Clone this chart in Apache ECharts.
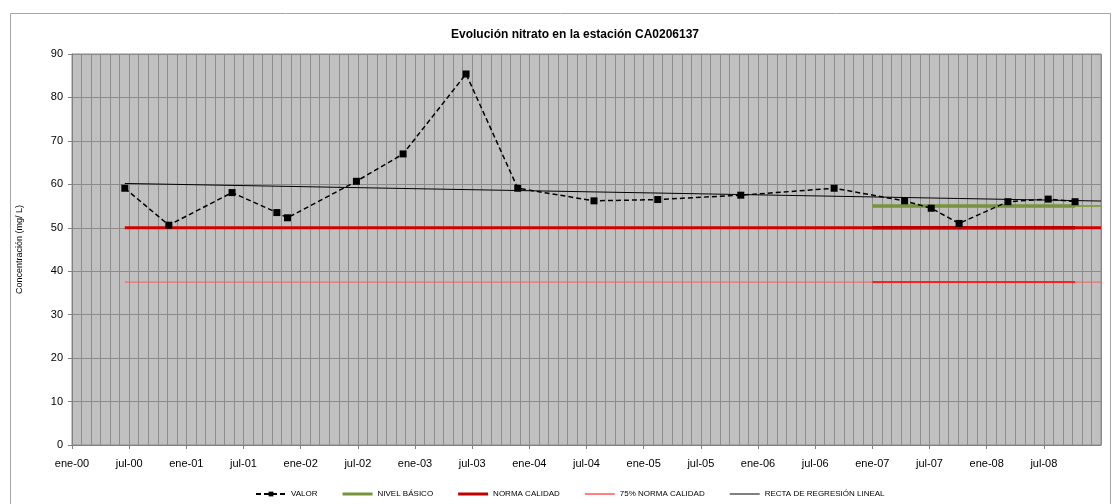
<!DOCTYPE html>
<html>
<head>
<meta charset="utf-8">
<script src="https://cdn.jsdelivr.net/npm/echarts@6/dist/echarts.min.js"></script>
<style>
  html, body { margin: 0; padding: 0; background: #fff; }
  #chart { width: 1114px; height: 504px; }
</style>
</head>
<body>
<div id="chart"></div>
<script>
// muestras de nitrato (fecha, mg/L)
const fechas = ['2000-06-18', '2000-11-06', '2001-05-27', '2001-10-17', '2001-11-20', '2002-06-28',
  '2002-11-24', '2003-06-13', '2003-11-25', '2004-07-26', '2005-02-15', '2005-11-07',
  '2006-09-01', '2007-04-14', '2007-07-08', '2007-10-05', '2008-03-09', '2008-07-16', '2008-10-10']
const valores = [59.1, 50.6, 58.1, 53.5, 52.3, 60.7, 67.0, 85.4, 59.1, 56.2, 56.5, 57.5,
  59.1, 56.2, 54.5, 51.0, 56.0, 56.6, 56.0]

// lineas de referencia
const periodoCorto = ['2007-01-01', '2008-10-10']
const periodoLargo = ['2000-06-18', '2009-01-01']
const periodoBasico = ['2007-01-01', '2009-01-01']
const nivelBasico = 55
const normaCalidad = 50
const norma75 = 37.5
const regresion = [60.2, 56.15]

const nombres = ['VALOR', 'NIVEL BÁSICO', 'NORMA CALIDAD', '75% NORMA CALIDAD', 'RECTA DE REGRESIÓN LINEAL']
const meses = ['ene', 'jul']

// fecha -> año decimal
function toYear (s) {
  let d = Date.parse(s + 'T00:00:00Z')
  let y = new Date(d).getUTCFullYear()
  let a = Date.UTC(y, 0, 1)
  let b = Date.UTC(y + 1, 0, 1)
  return y + (d - a) / (b - a)
}

function pares (xs, ys) {
  let out = []
  for (let i = 0; i < xs.length; i++) {
    out.push([toYear(xs[i]), Array.isArray(ys) ? ys[i] : ys])
  }
  return out
}

function linea (name, data, color, width) {
  return {
    name: name,
    type: 'line',
    data: data,
    symbol: 'none',
    silent: true,
    lineStyle: { color: color, width: width },
    itemStyle: { color: color }
  }
}

// icono de leyenda: barra horizontal de grosor dado
function barra (h) {
  return 'path://M0,0L30,0L30,' + h + 'L0,' + h + 'Z'
}

let chart = echarts.init(document.getElementById('chart'))
let option = {
  animation: false,
  textStyle: { fontFamily: 'Liberation Sans, Arial, sans-serif' },
  title: {
    text: 'Evolución nitrato en la estación CA0206137',
    left: 570,
    textAlign: 'center',
    top: 24,
    textStyle: { fontSize: 12, fontWeight: 'bold', color: '#000' }
  },
  legend: {
    data: [
      { name: nombres[0] },
      { name: nombres[1], icon: barra(3) },
      { name: nombres[2], icon: barra(3) },
      { name: nombres[3], icon: barra(1) },
      { name: nombres[4], icon: barra(1) }
    ],
    left: 250,
    top: 485,
    itemWidth: 30,
    itemHeight: 6,
    itemGap: 25,
    textStyle: { fontSize: 8, color: '#000' }
  },
  graphic: [{
    type: 'rect',
    shape: { x: 10.5, y: 13.5, width: 1100, height: 500 },
    style: { fill: 'none', stroke: '#a6a6a6', lineWidth: 1 },
    silent: true,
    z: -10
  }],
  grid: {
    left: 72,
    right: 13,
    top: 54,
    bottom: 59,
    show: true,
    backgroundColor: '#C0C0C0',
    borderColor: '#8c8c8c',
    borderWidth: 1
  },
  xAxis: {
    type: 'value',
    min: 2000,
    max: 2009,
    interval: 0.5,
    axisLine: { show: true, lineStyle: { color: '#808080' } },
    axisTick: { show: true, length: 4, lineStyle: { color: '#808080' } },
    minorTick: { show: false, splitNumber: 6 },
    splitLine: { show: true, lineStyle: { color: '#8c8c8c', width: 1 } },
    minorSplitLine: { show: true, lineStyle: { color: '#8c8c8c', width: 1 } },
    axisLabel: {
      showMaxLabel: false,
      fontSize: 11,
      color: '#000',
      margin: 13,
      formatter: function (v) {
        let y = Math.floor(v + 1e-6)
        let m = (v - y) > 0.25 ? meses[1] : meses[0]
        return m + '-' + String(y % 100).padStart(2, '0')
      }
    }
  },
  yAxis: {
    type: 'value',
    min: 0,
    max: 90,
    interval: 10,
    name: 'Concentración (mg/ L)',
    nameLocation: 'middle',
    nameGap: 48,
    nameTextStyle: { fontSize: 9, color: '#000' },
    axisLine: { show: true, lineStyle: { color: '#808080' } },
    axisTick: { show: true, length: 4, lineStyle: { color: '#808080' } },
    splitLine: { show: true, lineStyle: { color: '#8a8a8a', width: 1 } },
    axisLabel: { fontSize: 11, color: '#000', margin: 9 }
  },
  series: [
    linea('largo 75', pares(periodoLargo, norma75), '#ff5a5a', 1),
    linea('largo norma', pares(periodoLargo, normaCalidad), '#d40000', 3),
    linea('largo basico', pares(periodoBasico, nivelBasico), '#86a047', 2),
    linea(nombres[3], pares(periodoCorto, norma75), '#ff0000', 1.5),
    linea(nombres[2], pares(periodoCorto, normaCalidad), '#c00000', 3.5),
    linea(nombres[1], pares(periodoCorto, nivelBasico), '#77933c', 3.5),
    linea(nombres[4], pares(periodoLargo, regresion), '#000000', 1),
    {
      name: nombres[0],
      type: 'line',
      data: pares(fechas, valores),
      symbol: 'rect',
      symbolSize: 7,
      lineStyle: { color: '#000', width: 1.5, type: [5, 3] },
      itemStyle: { color: '#000' },
      z: 5
    }
  ]
}
chart.setOption(option)
</script>
</body>
</html>
